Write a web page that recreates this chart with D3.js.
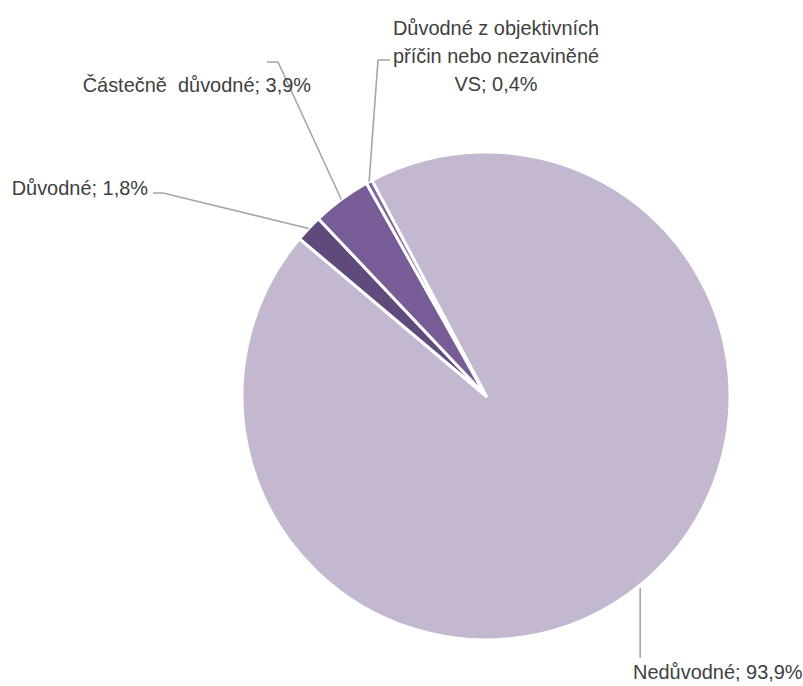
<!DOCTYPE html>
<html>
<head>
<meta charset="utf-8">
<script src="https://cdn.jsdelivr.net/npm/d3@7"></script>
<style>
  html, body { margin: 0; padding: 0; background: #ffffff; }
  svg { display: block; }
  text { font-family: "Liberation Sans", Arial, sans-serif; font-size: 21px; fill: #404040; }
</style>
</head>
<body>
<svg id="chart" width="803" height="686"></svg>
<script>
// ---- data ----
const categories = ["Nedůvodné", "Důvodné", "Částečně  důvodné", "Důvodné z objektivních příčin nebo nezaviněné VS"];
const values = [93.9, 1.8, 3.9, 0.4];
const colors = ["#C3B8D0", "#604A7B", "#775C98", "#8064A2"];
// label text lines (wrapped as in the original)
const labelLines = [
  ["Nedůvodné; 93,9%"],
  ["Důvodné; 1,8%"],
  ["Částečně  důvodné; 3,9%"],
  ["Důvodné z objektivních", "příčin nebo nezaviněné", "VS; 0,4%"]
];

// ---- layout ----
const width = 803, height = 686;
const cx = 486, cy = 396, radius = 244;
const startDeg = -27.9;

const svg = d3.select("#chart");
const g = svg.append("g").attr("transform", `translate(${cx},${cy})`);

const data = categories.map((c, i) => ({ name: c, value: values[i], color: colors[i], lines: labelLines[i] }));

const pie = d3.pie()
  .sort(null)
  .value(d => d.value)
  .startAngle(startDeg * Math.PI / 180)
  .endAngle(startDeg * Math.PI / 180 + 2 * Math.PI);

const arcs = pie(data);
const arc = d3.arc().innerRadius(0).outerRadius(radius);

g.selectAll("path.slice")
  .data(arcs)
  .join("path")
  .attr("class", "slice")
  .attr("d", arc)
  .attr("fill", d => d.data.color)
  .attr("stroke", "#ffffff")
  .attr("stroke-width", 3)
  .attr("stroke-linejoin", "round");

// label layout: text anchor point (absolute), alignment, and leader elbow
const labelLayout = [
  { x: 633, y: 679, anchor: "start", elbow: null, vert: true },
  { x: 148, y: 194.5, anchor: "end", elbow: [[153, 193], [163, 193]] },
  { x: 311, y: 92, anchor: "end", elbow: [[267, 62], [278, 62]] },
  { x: 496, y: 35, anchor: "middle", lh: 28, elbow: [[390, 60], [378, 60]] }
];

function edgePoint(d) {
  const a = (d.startAngle + d.endAngle) / 2;
  return [cx + radius * Math.sin(a), cy - radius * Math.cos(a)];
}

const leader = d3.line();
arcs.forEach((d, i) => {
  const L = labelLayout[i];
  const p = edgePoint(d);
  let pts;
  if (L.vert) {
    pts = [[p[0] + 1, p[1] + 2], [p[0] + 1, 658]];
  } else {
    pts = [L.elbow[0], L.elbow[1], p];
  }
  svg.append("path")
    .attr("d", leader(pts))
    .attr("fill", "none")
    .attr("stroke", "#A6A6A6")
    .attr("stroke-width", 1.6);

  const t = svg.append("text")
    .attr("transform", `translate(${L.x},${L.y}) scale(0.95,1)`)
    .attr("text-anchor", L.anchor)
    .style("white-space", "pre");
  d.data.lines.forEach((line, j) => {
    t.append("tspan")
      .attr("x", 0)
      .attr("dy", j === 0 ? 0 : (L.lh || 28))
      .text(line);
  });
});
</script>
</body>
</html>
